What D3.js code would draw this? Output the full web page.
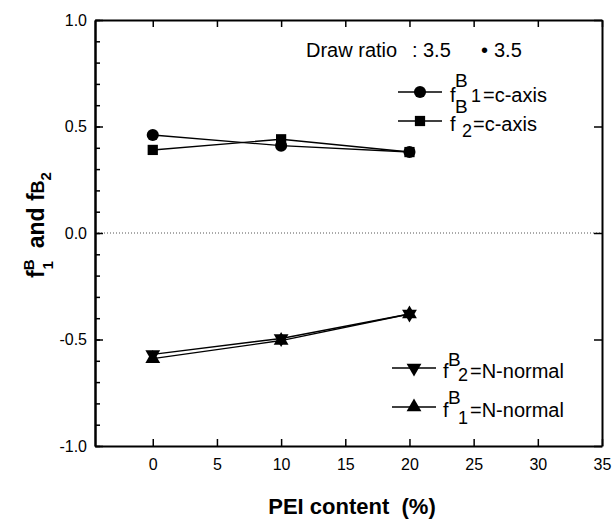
<!DOCTYPE html>
<html>
<head>
<meta charset="utf-8">
<script src="https://cdn.jsdelivr.net/npm/d3@7"></script>
<style>
  body { margin: 0; background: #fff; }
  svg { font-family: "Liberation Sans", Arial, sans-serif; }
</style>
</head>
<body>
<script>
// PEI content (%)
var pei = [0, 10, 20];

// orientation factors
var f1CAxis = [0.46, 0.41, 0.38];
var f2CAxis = [0.39, 0.44, 0.38];
var f2NNormal = [-0.57, -0.495, -0.38];
var f1NNormal = [-0.59, -0.505, -0.38];

var xTicks = [0, 5, 10, 15, 20, 25, 30, 35];
var yTicks = [-1.0, -0.5, 0.0, 0.5, 1.0];
var yMinor = d3.range(-10, 11).map(function (d) { return d / 10; });

var width = 615, height = 530;
var margin = { top: 20, right: 13, bottom: 84, left: 95 };
var w = width - margin.left - margin.right,
    h = height - margin.top - margin.bottom;

var svg = d3.select("body").append("svg")
    .attr("width", width)
    .attr("height", height);

var g = svg.append("g")
    .attr("transform", `translate(${margin.left}, ${margin.top})`);

var x = d3.scaleLinear().domain([-4.5, 35]).range([0, w]);
var y = d3.scaleLinear().domain([-1, 1]).range([h, 0]);

// zero line
g.append("line")
    .attr("x1", 0).attr("x2", w)
    .attr("y1", y(0)).attr("y2", y(0))
    .attr("stroke", "#555")
    .attr("stroke-width", 1)
    .attr("stroke-dasharray", "1,2");

// axes, ticks pointing inward
var tickStyle = function (sel) {
    sel.select(".domain").attr("stroke-width", 2);
    sel.selectAll(".tick line").attr("stroke-width", 1.5);
    sel.selectAll("text")
        .attr("font-size", 16)
        .attr("fill", "#000");
};

var fmtY = function (d) { return d3.format(".1f")(d).replace("\u2212", "-"); };

g.append("g")
    .attr("transform", `translate(0, ${h})`)
    .call(d3.axisBottom(x).tickValues(xTicks).tickSizeInner(-7).tickSizeOuter(0)
        .tickPadding(13).tickFormat(d3.format("d")))
    .call(tickStyle);

g.append("g")
    .call(d3.axisTop(x).tickValues(xTicks).tickSizeInner(-7).tickSizeOuter(0)
        .tickFormat(""))
    .call(tickStyle);

g.append("g")
    .call(d3.axisLeft(y).tickValues(yMinor).tickSizeInner(-5).tickSizeOuter(0)
        .tickFormat(""))
    .call(tickStyle);

g.append("g")
    .call(d3.axisLeft(y).tickValues(yTicks).tickSizeInner(-8).tickSizeOuter(0)
        .tickPadding(8).tickFormat(fmtY))
    .call(tickStyle);

g.append("g")
    .attr("transform", `translate(${w}, 0)`)
    .call(d3.axisRight(y).tickValues(yTicks).tickSizeInner(-8).tickSizeOuter(0)
        .tickFormat(""))
    .call(tickStyle);

// series
var series = [
    { values: f1CAxis, symbol: d3.symbolCircle, size: 115, rot: 0 },
    { values: f2CAxis, symbol: d3.symbolSquare, size: 105, rot: 0 },
    { values: f2NNormal, symbol: d3.symbolTriangle, size: 95, rot: 180 },
    { values: f1NNormal, symbol: d3.symbolTriangle, size: 95, rot: 0 }
];

var line = d3.line()
    .x(function (d) { return x(d.x); })
    .y(function (d) { return y(d.y); });

series.forEach(function (s) {
    var pts = pei.map(function (p, i) { return { x: p, y: s.values[i] }; });
    g.append("path")
        .datum(pts)
        .attr("fill", "none")
        .attr("stroke", "#000")
        .attr("stroke-width", 1.4)
        .attr("d", line);
    g.selectAll(null)
        .data(pts)
        .enter().append("path")
        .attr("transform", function (d) {
            return `translate(${x(d.x)}, ${y(d.y)}) rotate(${s.rot})`;
        })
        .attr("d", d3.symbol().type(s.symbol).size(s.size))
        .attr("fill", "#000");
});

// header text, pieces placed like the original
var header = [
    { x: 306, t: "Draw ratio" },
    { x: 412, t: ":" },
    { x: 423, t: "3.5" },
    { x: 481, t: "\u2022" },
    { x: 494, t: "3.5" }
];
svg.selectAll(null)
    .data(header)
    .enter().append("text")
    .attr("x", function (d) { return d.x; })
    .attr("y", 57)
    .attr("font-size", 20)
    .text(function (d) { return d.t; });

// legend
var legend = [
    { symbol: d3.symbolCircle, size: 115, rot: 0, ly: 92, lx: 398, fx: 450, sub: "1", label: "=c-axis", subX: 21, labX: 33, subY: 102, bY: 87 },
    { symbol: d3.symbolSquare, size: 105, rot: 0, ly: 121, lx: 398, fx: 450, sub: "2", label: "=c-axis", subX: 12, labX: 23, subY: 137, bY: 113 },
    { symbol: d3.symbolTriangle, size: 95, rot: 180, ly: 368, lx: 392, fx: 443, sub: "2", label: "=N-normal", subX: 15, labX: 27, subY: 381, bY: 366 },
    { symbol: d3.symbolTriangle, size: 95, rot: 0, ly: 407, lx: 392, fx: 443, sub: "1", label: "=N-normal", subX: 15, labX: 27, subY: 424, bY: 404 }
];

legend.forEach(function (d) {
    svg.append("line")
        .attr("x1", d.lx).attr("x2", d.lx + 44)
        .attr("y1", d.ly).attr("y2", d.ly)
        .attr("stroke", "#000").attr("stroke-width", 1.4);
    svg.append("path")
        .attr("transform", `translate(${d.lx + 22}, ${d.ly}) rotate(${d.rot})`)
        .attr("d", d3.symbol().type(d.symbol).size(d.size))
        .attr("fill", "#000");
    var base = d.ly + 10;
    svg.append("text")
        .attr("x", d.fx).attr("y", base)
        .attr("font-size", 20).text("f");
    svg.append("text")
        .attr("x", d.fx + 5).attr("y", d.bY)
        .attr("font-size", 19).text("B");
    svg.append("text")
        .attr("x", d.fx + d.subX).attr("y", d.subY)
        .attr("font-size", 18).text(d.sub);
    svg.append("text")
        .attr("x", d.fx + d.labX).attr("y", base)
        .attr("font-size", 20).text(d.label);
});

// axis titles
svg.append("text")
    .attr("x", 352).attr("y", 514)
    .attr("text-anchor", "middle")
    .attr("font-size", 22)
    .attr("font-weight", "bold")
    .attr("xml:space", "preserve")
    .text("PEI content  (%)");

var yl = svg.append("text")
    .attr("transform", "translate(44, 225) rotate(-90)")
    .attr("text-anchor", "middle")
    .attr("font-size", 23)
    .attr("font-weight", "bold");
yl.append("tspan").text("f");
yl.append("tspan").attr("font-size", 15).attr("dy", -10).text("B");
yl.append("tspan").attr("font-size", 15).attr("dx", -10).attr("dy", 19).text("1");
yl.append("tspan").attr("dy", -9).attr("xml:space", "preserve").text("  and f");
yl.append("tspan").attr("font-size", 18).text("B");
yl.append("tspan").attr("font-size", 15).attr("dy", 7).text("2");
</script>
</body>
</html>
